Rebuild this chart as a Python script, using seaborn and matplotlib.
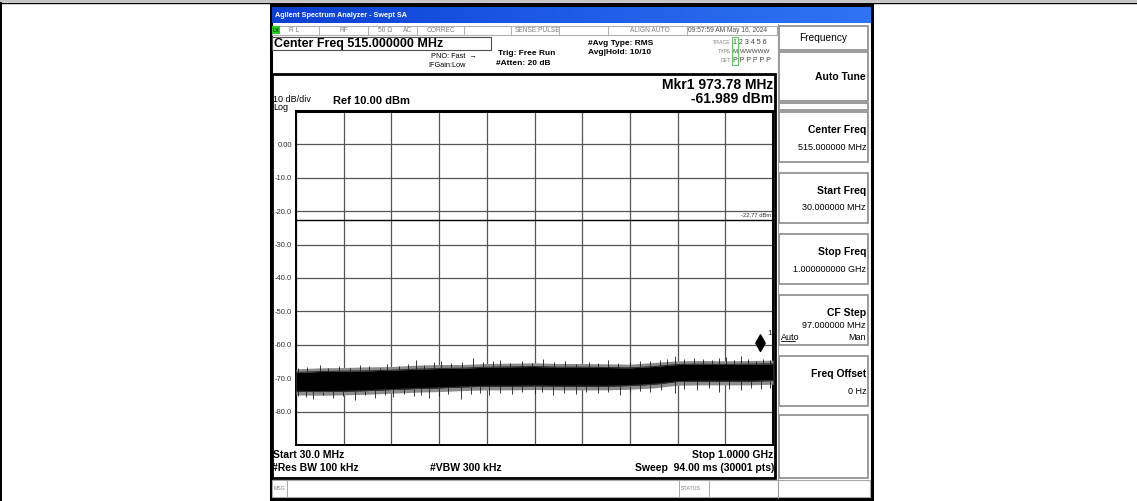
import numpy as np
import matplotlib
matplotlib.use("Agg")
import matplotlib.pyplot as plt
import seaborn as sns
from matplotlib.patches import Rectangle
from matplotlib.colors import LinearSegmentedColormap

# ------------------------------------------------------------
# trace (MHz / dBm), half-division steps
# ------------------------------------------------------------
freq_mhz = [30, 79, 127, 176, 224, 273, 321, 370, 418, 467, 515,
            564, 612, 661, 709, 758, 806, 855, 903, 952, 1000]
core_top = [-68.3, -68.0, -67.9, -67.8, -67.6, -67.3, -67.1, -67.0, -66.7, -66.6, -66.5,
            -66.7, -66.7, -66.8, -66.9, -66.5, -65.9, -65.8, -65.9, -65.8, -65.7]
core_bottom = [-73.9, -74.0, -73.9, -73.7, -73.4, -73.1, -72.9, -72.6, -72.4, -72.4, -72.3,
               -72.4, -72.4, -72.4, -72.2, -71.8, -71.0, -70.9, -70.9, -70.9, -70.7]
fuzz_top = [-67.2, -66.9, -66.8, -66.6, -66.5, -66.1, -65.9, -65.9, -65.6, -65.5, -65.4,
            -65.6, -65.6, -65.7, -65.8, -65.3, -64.8, -64.7, -64.8, -64.7, -64.6]
fuzz_bottom = [-75.0, -75.1, -75.0, -74.8, -74.5, -74.2, -74.0, -73.7, -73.5, -73.5, -73.4,
               -73.5, -73.5, -73.5, -73.3, -72.9, -72.1, -72.0, -72.0, -72.0, -71.8]

# single spikes sticking out of the noise band
spike_up_freq = [35, 52, 78, 95, 118, 140, 160, 179, 200, 215, 240, 258, 274, 290, 310,
                 325, 345, 368, 390, 410, 430, 444, 465, 490, 510, 532, 555, 578, 600,
                 625, 645, 664, 685, 710, 730, 749, 770, 785, 800, 820, 840, 857, 875,
                 890, 905, 920, 935, 950, 965, 980, 993]
spike_up_level = [-67.0, -66.6, -65.9, -66.8, -66.3, -67.0, -66.1, -66.2, -66.9, -65.8,
                  -66.4, -65.6, -64.7, -65.9, -65.2, -64.8, -65.5, -65.0, -64.0, -65.1,
                  -64.8, -64.5, -65.3, -64.9, -65.4, -64.3, -65.2, -64.9, -65.6, -65.0,
                  -65.5, -64.7, -65.4, -65.2, -64.9, -64.8, -64.6, -64.2, -63.3, -64.4,
                  -64.0, -64.3, -64.5, -64.1, -63.7, -64.6, -63.5, -64.2, -64.8, -64.4,
                  -64.5]
spike_dn_freq = [35, 50, 64, 85, 105, 125, 149, 170, 190, 210, 227, 250, 270, 285, 301,
                 320, 340, 366, 385, 405, 423, 445, 470, 490, 515, 530, 552, 575, 600,
                 620, 645, 665, 688, 710, 730, 750, 772, 800, 820, 845, 870, 891, 910,
                 935, 955, 975, 993]
spike_dn_level = [-75.2, -75.6, -76.1, -75.0, -75.8, -75.3, -76.5, -75.1, -75.9, -75.0,
                  -75.5, -74.8, -75.4, -74.9, -76.0, -75.2, -74.6, -76.3, -74.7, -74.4,
                  -74.9, -74.3, -74.8, -74.2, -74.6, -74.0, -75.1, -74.3, -74.7, -74.1,
                  -74.5, -74.0, -74.9, -74.2, -73.8, -74.0, -73.5, -74.4, -73.2, -73.6,
                  -73.0, -74.2, -73.1, -73.4, -72.9, -73.3, -72.9]

mkr_freq = 973.78
mkr_level = -61.989
display_line = -22.77

start_mhz, stop_mhz = 30.0, 1000.0
ref_level, db_per_div = 10.0, 10.0
y_tick_labels = ["", "-80.0", "-70.0", "-60.0", "-50.0", "-40.0",
                 "-30.0", "-20.0", "-10.0", "0.00", ""]

softkeys = [("Center Freq", "515.000000 MHz"),
            ("Start Freq", "30.000000 MHz"),
            ("Stop Freq", "1.000000000 GHz"),
            ("CF Step", "97.000000 MHz"),
            ("Freq Offset", "0 Hz")]

# ------------------------------------------------------------
# figure + full-size "screen" axes in pixel units
# ------------------------------------------------------------
sns.set_style("white")
plt.rcParams["font.family"] = ["Liberation Sans", "DejaVu Sans"]

W, H = 1137, 501
fig = plt.figure(figsize=(W / 100, H / 100), dpi=100)
ui = fig.add_axes([0, 0, 1, 1], zorder=0)
ui.set_axis_off()


def box(x0, y0, x1, y1, ec="#9a9a9a", fc="white", lw=0.8, z=1):
    ui.add_patch(Rectangle((x0, y0), x1 - x0, y1 - y0, ec=ec, fc=fc, lw=lw, zorder=z))


def txt(x, y, s, size=6, weight="normal", ha="left", color="black", **kw):
    ui.text(x, y, s, fontsize=size, fontweight=weight, ha=ha, va="center",
            color=color, zorder=5, **kw)


# page frame
box(0, 0, W, 2, ec="none", fc="#c4c4c4")
ui.plot([0, W], [2.5, 2.5], color="black", lw=1)
box(0, 2, 2, H, ec="none", fc="black")

# analyzer window
box(270.5, 5, 872, 499, ec="black", fc="white", lw=2.2)
blue = LinearSegmentedColormap.from_list("xp", ["#0b3fd2", "#1e5ce8", "#2f74f2"])
ui.imshow(np.linspace(0, 1, 256)[None, :], cmap=blue, aspect="auto",
          extent=(272, 871, 23, 7), zorder=2)
txt(275, 15.5, "Agilent Spectrum Analyzer - Swept SA", size=5.2, weight="bold", color="white")

# status row
box(272, 25.5, 777, 35, ec="#b0b0b0")
for sx in [319, 368, 417, 464, 511, 559, 608, 687]:
    ui.plot([sx, sx], [25.5, 35], color="#b0b0b0", lw=0.7, zorder=3)
box(272, 26, 280, 34, ec="none", fc="#22cc22", z=3)
txt(272.5, 30.5, "LX", size=4, color="black")
grey = "#808080"
txt(289, 30.5, "R L", size=4.8, color=grey)
txt(340, 30.5, "RF", size=4.8, color=grey)
txt(378, 30.5, "50 Ω", size=4.8, color=grey)
txt(403, 30.5, "AC", size=4.8, color=grey)
txt(427, 30.5, "CORREC", size=4.8, color=grey)
txt(515, 30.5, "SENSE:PULSE", size=4.8, color=grey)
txt(630, 30.5, "ALIGN AUTO", size=4.8, color=grey)
txt(688, 30.5, "09:57:59 AM May 16, 2024", size=4.8, color="#505050")

# header
box(272, 37, 491, 50, ec="#505050", lw=0.8)
txt(274, 43.5, "Center Freq 515.000000 MHz", size=9, weight="bold")
txt(431, 56, "PNO: Fast  →", size=5.3)
txt(428, 65, "IFGain:Low", size=5.3)
txt(498, 53, "Trig: Free Run", size=6, weight="bold")
txt(496, 63, "#Atten: 20 dB", size=6, weight="bold")
txt(588, 43, "#Avg Type: RMS", size=6, weight="bold")
txt(588, 52.5, "Avg|Hold: 10/10", size=6, weight="bold")
txt(731, 42, "TRACE", size=3.8, color=grey, ha="right")
txt(731, 51, "TYPE", size=3.8, color=grey, ha="right")
txt(731, 60, "DET", size=3.8, color=grey, ha="right")
txt(733, 42, "1 2 3 4 5 6", size=5, color="#404040")
txt(733, 51, "M WWWWW", size=4.5, color="#404040")
txt(733, 60, "P P P P P P", size=5, color="#404040")
box(732, 37, 738, 65, ec="#44bb44", fc="none", lw=0.6, z=4)

# measurement display frame
box(272, 74, 775, 478, ec="black", fc="white", lw=2, z=1)
txt(773, 85, "Mkr1 973.78 MHz", size=10, weight="bold", ha="right")
txt(773, 98.5, "-61.989 dBm", size=10, weight="bold", ha="right")
txt(273, 99.5, "10 dB/div", size=6.5)
txt(273, 107.5, "Log", size=6.5)
txt(333, 100.5, "Ref 10.00 dBm", size=8, weight="bold")
txt(273, 455, "Start 30.0 MHz", size=7.5, weight="bold")
txt(773, 455, "Stop 1.0000 GHz", size=7.5, weight="bold", ha="right")
txt(272.5, 468, "#Res BW 100 kHz", size=7.5, weight="bold")
txt(430, 468, "#VBW 300 kHz", size=7.5, weight="bold")
txt(774, 468, "Sweep  94.00 ms (30001 pts)", size=7.5, weight="bold", ha="right")

# message bar
box(272, 480, 870, 497, ec="#a8a8a8")
for sx in [287, 679, 709]:
    ui.plot([sx, sx], [480, 497], color="#a8a8a8", lw=0.7, zorder=3)
txt(273.5, 488.5, "MSG", size=3.8, color=grey)
txt(681, 488.5, "STATUS", size=3.8, color=grey)

# soft keys
ui.plot([777.5, 777.5], [24, 498], color="#9a9a9a", lw=0.8, zorder=3)
box(779, 26, 868, 50, ec="#8a8a8a", lw=1.2)
txt(823, 37.5, "Frequency", size=7.3, ha="center")
box(779, 52, 868, 101, ec="#8a8a8a", lw=1.2)
txt(866, 77, "Auto Tune", size=7.5, weight="bold", ha="right")
box(779, 103, 868, 110, ec="#8a8a8a", lw=1.2)
key_top = 112
for name, value in softkeys:
    box(779, key_top, 868, key_top + 50, ec="#8a8a8a", lw=1.2)
    txt(866, key_top + 18, name, size=7.5, weight="bold", ha="right")
    if name == "CF Step":
        txt(866, key_top + 30, value, size=6.5, ha="right")
        txt(781, key_top + 42, "Auto", size=6.5)
        ui.plot([781, 795], [key_top + 46, key_top + 46], color="black", lw=0.6, zorder=5)
        txt(866, key_top + 42, "Man", size=6.5, ha="right")
    else:
        txt(866, key_top + 35, value, size=6.5, ha="right")
    key_top += 61
box(779, 415, 868, 478, ec="#8a8a8a", lw=1.2)

ui.set_xlim(0, W)
ui.set_ylim(H, 0)

# ------------------------------------------------------------
# trace axes
# ------------------------------------------------------------
px0, px1, py0, py1 = 296, 773, 111, 445
ax = fig.add_axes([px0 / W, 1 - py1 / H, (px1 - px0) / W, (py1 - py0) / H], zorder=2)
ax.set_facecolor("white")
ax.set_xlim(start_mhz, stop_mhz)
ax.set_ylim(ref_level - 10 * db_per_div, ref_level)
ax.set_xticks(np.linspace(start_mhz, stop_mhz, 11))
ax.set_xticklabels([])
ax.set_yticks(np.linspace(ref_level - 10 * db_per_div, ref_level, 11))
ax.set_yticklabels(y_tick_labels)
ax.tick_params(length=0, labelsize=5.5, labelcolor="#333333", pad=3)
ax.grid(True, color="#555555", lw=0.9)
for side in ax.spines.values():
    side.set_color("black")
    side.set_linewidth(1.4)
ax.spines["top"].set_linewidth(2.2)

ax.fill_between(freq_mhz, fuzz_bottom, fuzz_top, color="#8c8c8c", lw=0, zorder=3)
ax.fill_between(freq_mhz, core_bottom, core_top, color="black", lw=0, zorder=4)
sns.lineplot(x=freq_mhz, y=core_top, color="#333333", lw=0.8, ax=ax, zorder=4)
sns.lineplot(x=freq_mhz, y=core_bottom, color="#333333", lw=0.8, ax=ax, zorder=4)
ax.vlines(spike_up_freq, np.interp(spike_up_freq, freq_mhz, core_top), spike_up_level,
          color="#1a1a1a", lw=0.6, zorder=4)
ax.vlines(spike_dn_freq, np.interp(spike_dn_freq, freq_mhz, core_bottom), spike_dn_level,
          color="#1a1a1a", lw=0.6, zorder=4)

# display line
ax.axhline(display_line, color="black", lw=1.0, zorder=5)
ax.text(stop_mhz - 3, display_line + 0.8, "-22.77 dBm", fontsize=4.2,
        ha="right", va="bottom", color="#333333", zorder=6)

# marker 1
diamond = [(0, 0), (0.28, 0.5), (0, 1), (-0.28, 0.5), (0, 0)]
ax.plot([mkr_freq], [mkr_level], marker=diamond, markersize=24, color="black",
        ls="none", zorder=6)
ax.annotate("1", (mkr_freq, mkr_level), xytext=(5, 13), textcoords="offset points",
            fontsize=6, ha="left", va="center", zorder=6)

fig.savefig("out.png", dpi=100)
